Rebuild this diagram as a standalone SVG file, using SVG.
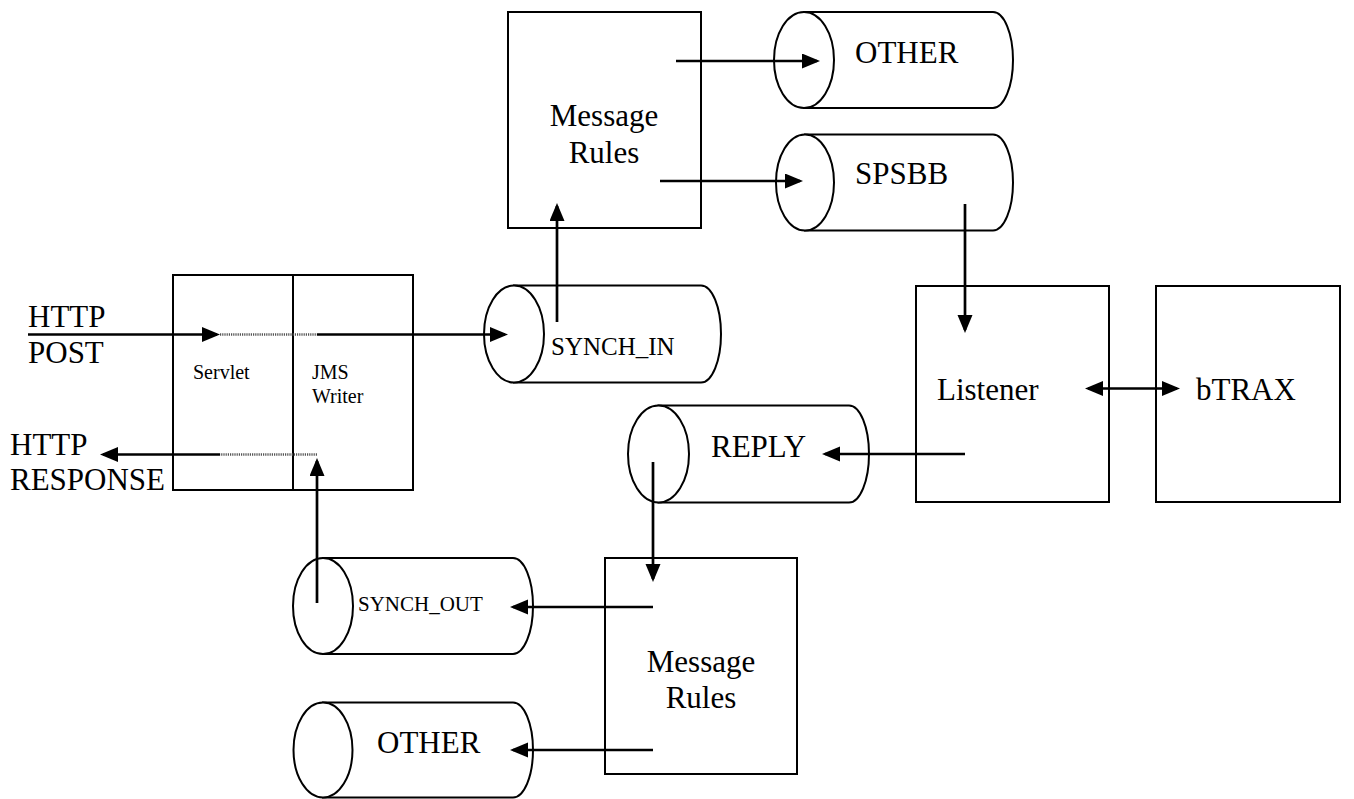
<svg xmlns="http://www.w3.org/2000/svg" width="1354" height="799" viewBox="0 0 1354 799">
<defs>
<style>
.box{fill:none;stroke:#000;stroke-width:2}
.cyl{fill:#fff;stroke:#000;stroke-width:2}
.ln{stroke:#000;stroke-width:2.7;fill:none}
.dot{stroke:#555;stroke-width:2.7;stroke-dasharray:1.2 1;fill:none}
text{font-family:'Liberation Serif','Times New Roman','DejaVu Serif',serif;fill:#000}
.big{font-size:31px}
.mid{font-size:25px}
.sm{font-size:20px}
.c{text-anchor:middle}
</style>
<marker id="ah" markerUnits="userSpaceOnUse" markerWidth="20" markerHeight="18" refX="15" refY="7.5" orient="auto-start-reverse">
<path d="M0,0 L18,7.5 L0,15 Z" fill="#000"/>
</marker>
</defs>
<rect width="1354" height="799" fill="#fff"/>

<g id="http-labels">
<text class="big" x="28" y="327">HTTP</text>
<text class="big" x="28" y="363">POST</text>
<text class="big" x="10" y="455">HTTP</text>
<text class="big" x="10" y="490">RESPONSE</text>
</g>

<g id="servlet">
<rect class="box" x="173" y="275" width="240" height="215"/>
<line class="box" x1="293" y1="275" x2="293" y2="490"/>
<text class="sm" x="193" y="379">Servlet</text>
<text class="sm" x="312" y="379">JMS</text>
<text class="sm" x="312" y="403">Writer</text>
</g>

<g id="synch-in">
<path class="cyl" d="M514,285.5 L701,285.5 A20,48.5 0 0 1 701,382.5 L514,382.5 Z"/>
<ellipse class="cyl" cx="514" cy="334" rx="30" ry="48.5"/>
<text class="mid" x="551" y="355">SYNCH_IN</text>
</g>

<g id="message-rules-1">
<rect class="box" x="508" y="12" width="193" height="216"/>
<text class="big c" x="604" y="126">Message</text>
<text class="big c" x="604" y="163">Rules</text>
</g>

<g id="other-1">
<path class="cyl" d="M804,12 L993,12 A20,48 0 0 1 993,108 L804,108 Z"/>
<ellipse class="cyl" cx="804" cy="60" rx="30" ry="48"/>
<text class="big" x="855" y="63">OTHER</text>
</g>

<g id="spsbb">
<path class="cyl" d="M805,134.5 L993,134.5 A20,48 0 0 1 993,230.5 L805,230.5 Z"/>
<ellipse class="cyl" cx="805" cy="182.5" rx="29" ry="48"/>
<text class="big" x="855" y="184">SPSBB</text>
</g>

<g id="listener">
<rect class="box" x="916" y="286" width="193" height="216"/>
<text class="big" x="937" y="400">Listener</text>
</g>

<g id="btrax">
<rect class="box" x="1156" y="286" width="184" height="216"/>
<text class="big" x="1196" y="400">bTRAX</text>
</g>

<g id="reply">
<path class="cyl" d="M658.5,405.5 L849,405.5 A20,48.5 0 0 1 849,502.5 L658.5,502.5 Z"/>
<ellipse class="cyl" cx="658.5" cy="454" rx="30.5" ry="48.5"/>
<text class="big" x="711" y="457">REPLY</text>
</g>

<g id="message-rules-2">
<rect class="box" x="605" y="558" width="192" height="216"/>
<text class="big c" x="701" y="672">Message</text>
<text class="big c" x="701" y="708">Rules</text>
</g>

<g id="synch-out">
<path class="cyl" d="M323,558 L513,558 A20,48 0 0 1 513,654 L323,654 Z"/>
<ellipse class="cyl" cx="323" cy="606" rx="30" ry="48"/>
<text style="font-size:21px" x="358" y="611">SYNCH_OUT</text>
</g>

<g id="other-2">
<path class="cyl" d="M323,702.5 L513,702.5 A20,47.5 0 0 1 513,797.5 L323,797.5 Z"/>
<ellipse class="cyl" cx="323" cy="750" rx="29.5" ry="47.5"/>
<text class="big" x="377" y="753">OTHER</text>
</g>

<g id="connectors">
<line class="ln" x1="28" y1="334.5" x2="217" y2="334.5" marker-end="url(#ah)"/>
<line class="dot" x1="220" y1="334.5" x2="317" y2="334.5"/>
<line class="ln" x1="317" y1="334.5" x2="505" y2="334.5" marker-end="url(#ah)"/>
<line class="dot" x1="317" y1="454.5" x2="220" y2="454.5"/>
<line class="ln" x1="220" y1="454.5" x2="103" y2="454.5" marker-end="url(#ah)"/>
<line class="ln" x1="317" y1="603" x2="317" y2="461" marker-end="url(#ah)"/>
<line class="ln" x1="557" y1="322" x2="557" y2="206" marker-end="url(#ah)"/>
<line class="ln" x1="676" y1="61" x2="817" y2="61" marker-end="url(#ah)"/>
<line class="ln" x1="660" y1="181" x2="800" y2="181" marker-end="url(#ah)"/>
<line class="ln" x1="965" y1="204" x2="965" y2="330" marker-end="url(#ah)"/>
<line class="ln" x1="1088" y1="388.5" x2="1177" y2="388.5" marker-start="url(#ah)" marker-end="url(#ah)"/>
<line class="ln" x1="965" y1="454" x2="825" y2="454" marker-end="url(#ah)"/>
<line class="ln" x1="653" y1="462" x2="653" y2="579" marker-end="url(#ah)"/>
<line class="ln" x1="653" y1="607" x2="513" y2="607" marker-end="url(#ah)"/>
<line class="ln" x1="653" y1="750" x2="513" y2="750" marker-end="url(#ah)"/>
</g>
</svg>
